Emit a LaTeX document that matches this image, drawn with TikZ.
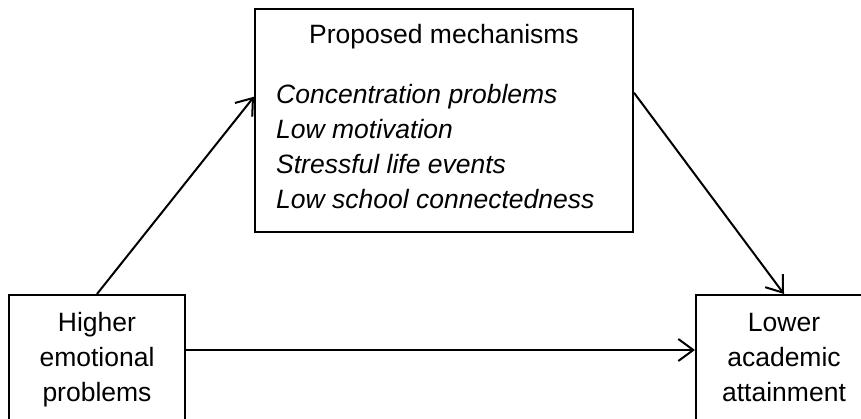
\documentclass[tikz,border=0pt]{standalone}
\usepackage{fontspec}
\setmainfont{Liberation Sans}
\usetikzlibrary{arrows.meta, calc}

\begin{document}
\begin{tikzpicture}[x=1pt, y=-1pt,
		box/.style = {draw, line width=2pt, align=center, font=\fontsize{26.5}{35}\selectfont},
		item/.style = {inner sep=0pt, anchor=base west, font=\fontsize{26.5}{35}\selectfont\itshape},
		link/.style = {line width=2pt, -{Straight Barb[length=15pt, width=22pt, line width=2pt]}}
	]
		\useasboundingbox (0,0) rectangle (861,419);
		\def\gap{35};
		
		\begin{scope}
		\node [box, minimum width=176pt, minimum height=128pt] (emo) at (97,359) {\strut Higher\\emotional\\problems\strut};
		\node [box, minimum width=176pt, minimum height=128pt] (res) at (784,359) {\strut Lower\\academic\\attainment\strut};
		\node [box, minimum width=378pt, minimum height=222.5pt] (mech) at (444,120.75) {};
		\end{scope}
		
		\begin{scope}
		\node [box, draw=none, inner sep=0pt, anchor=base] (mechtitle) at ([yshift=-35.5pt]mech.north) {Proposed mechanisms};
		\foreach \i/\txt in {0/Concentration problems, 1/Low motivation, 2/Stressful life events, 3/Low school connectedness}
			\node [item] (mech-\i) at ($(mech.north west)+(22,{95.5+\gap*\i})$) {\txt};
		\end{scope}
		
		\begin{scope}
		\draw [link] (emo.north) -- ([yshift=24pt]mech.west);
		\draw [link] ([yshift=28pt]mech.east) -- (res.north);
		\draw [link] ([yshift=9pt]emo.east) -- ([yshift=9pt]res.west);
		\end{scope}
	\end{tikzpicture}
\end{document}
